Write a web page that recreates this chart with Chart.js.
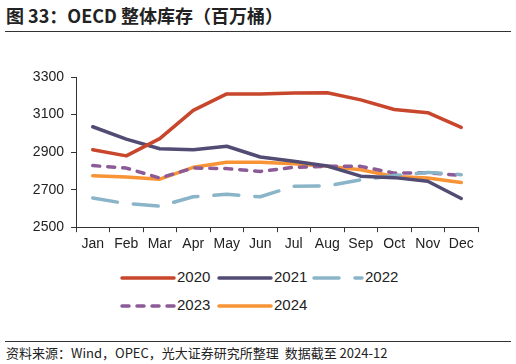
<!DOCTYPE html>
<html>
<head>
<meta charset="utf-8">
<script src="https://cdn.jsdelivr.net/npm/chart.js@4"></script>
<style>
  body { margin: 0; width: 516px; height: 364px; background: #fff; position: relative; overflow: hidden;
         font-family: "Noto Sans CJK SC", "Liberation Sans", sans-serif; }
  #title { position: absolute; left: 6px; top: 2px; font-size: 18px; font-weight: bold; color: #222; }
  #topline { position: absolute; left: 5px; top: 31px; width: 506px; height: 1px; background: #333; }
  #wrap { position: absolute; left: 0; top: 57px; width: 516px; height: 210px; }
  #legend { position: absolute; left: 0; top: 268px; width: 516px; font-family: "Liberation Sans", Arial, sans-serif;
            font-size: 15px; color: #222; }
  .item { position: absolute; height: 20px; }
  .item svg { position: absolute; left: 0; top: 4px; }
  .item span { position: absolute; top: 0; }
  #botline { position: absolute; left: 5px; top: 341px; width: 506px; height: 1px; background: #333; }
  #source { position: absolute; left: 6px; top: 343px; font-size: 13px; color: #222; }
</style>
</head>
<body>
<div id="title">图 33：OECD 整体库存（百万桶）</div>
<div id="topline"></div>
<div id="wrap"><canvas id="chart"></canvas></div>
<div id="legend"></div>
<div id="botline"></div>
<div id="source">资料来源：Wind，OPEC，光大证券研究所整理&nbsp; 数据截至 2024-12</div>
<script>
// months and yearly inventory (million barrels)
const months = ['Jan', 'Feb', 'Mar', 'Apr', 'May', 'Jun', 'Jul', 'Aug', 'Sep', 'Oct', 'Nov', 'Dec'];
const yTicks = [2500, 2700, 2900, 3100, 3300];

const y2020 = [2912, 2880, 2972, 3122, 3210, 3210, 3215, 3216, 3178, 3127, 3110, 3032];
const y2021 = [3035, 2969, 2918, 2912, 2931, 2874, 2851, 2826, 2772, 2764, 2745, 2653];
const y2022 = [2655, 2626, 2612, 2662, 2675, 2662, 2718, 2720, 2752, 2775, 2792, 2780];
const y2023 = [2828, 2815, 2762, 2815, 2812, 2797, 2819, 2824, 2824, 2788, 2790, 2776];
const y2024 = [2774, 2767, 2756, 2819, 2846, 2846, 2838, 2825, 2806, 2770, 2762, 2738];

const series = [
  { label: '2020', data: y2020, color: '#C8462B', dash: [] },
  { label: '2021', data: y2021, color: '#524C74', dash: [] },
  { label: '2022', data: y2022, color: '#8AB5C9', dash: [25, 16] },
  { label: '2023', data: y2023, color: '#8C5B97', dash: [7, 8] },
  { label: '2024', data: y2024, color: '#F89436', dash: [] }
];

const ctx = document.getElementById('chart').getContext('2d');
new Chart(ctx, {
  type: 'line',
  data: {
    labels: months,
    datasets: series.map(s => ({
      label: s.label,
      data: s.data,
      borderColor: s.color,
      backgroundColor: s.color,
      borderWidth: 3.5,
      borderDash: s.dash,
      borderCapStyle: 'round',
      borderJoinStyle: 'round',
      pointRadius: 0,
      tension: 0
    }))
  },
  options: {
    responsive: true,
    maintainAspectRatio: false,
    animation: false,
    layout: { padding: { left: 0, right: 38, top: 20, bottom: 10 } },
    plugins: { legend: { display: false }, tooltip: { enabled: false } },
    scales: {
      x: {
        offset: true,
        grid: { offset: true, drawOnChartArea: false, drawTicks: true, tickLength: 5, color: '#333' },
        border: { display: true, color: '#333', width: 1 },
        ticks: { color: '#222', font: { family: 'Liberation Sans', size: 14 }, padding: 4, maxRotation: 0, autoSkip: false }
      },
      y: {
        min: 2500,
        max: 3300,
        afterBuildTicks: axis => { axis.ticks = yTicks.map(v => ({ value: v })); },
        afterFit: axis => { axis.width = 76; },
        grid: { drawOnChartArea: false, drawTicks: true, tickLength: 5, color: '#333' },
        border: { display: true, color: '#333', width: 1 },
        ticks: { color: '#222', font: { family: 'Liberation Sans', size: 14 }, padding: 7, callback: v => String(v) }
      }
    }
  }
});

// html legend, two rows
const legendPos = [[120, 0], [217, 0], [312, 0], [120, 28], [217, 28]];
const legend = document.getElementById('legend');
series.forEach((s, i) => {
  const d = document.createElement('div');
  d.className = 'item';
  d.style.left = legendPos[i][0] + 'px';
  d.style.top = legendPos[i][1] + 'px';
  const w = i === 2 ? 48 : 52;
  d.innerHTML = '<svg width="' + (w + 4) + '" height="12"><line x1="2" y1="6" x2="' + (w + 2) + '" y2="6" stroke="' + s.color +
    '" stroke-width="3.5" stroke-linecap="round" stroke-dasharray="' + (s.dash.length ? s.dash.join(',') : 'none') + '"/></svg>' +
    '<span style="left:' + (w + 5) + 'px">' + s.label + '</span>';
  legend.appendChild(d);
});
</script>
</body>
</html>
